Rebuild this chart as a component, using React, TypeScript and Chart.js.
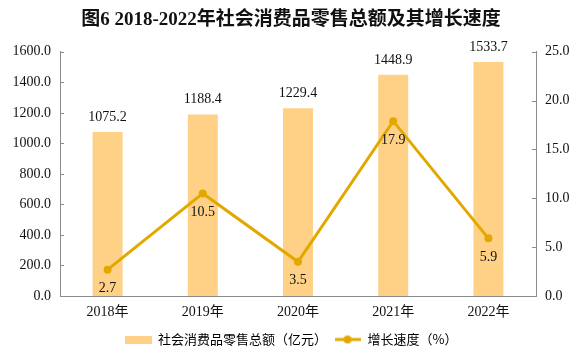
import React, { useEffect, useRef } from "react";
import { Chart, registerables } from "chart.js";

Chart.register(...registerables);

const titleText = "图6 2018-2022年社会消费品零售总额及其增长速度";
const categories = ["2018年", "2019年", "2020年", "2021年", "2022年"];
const retailSales = [1075.2, 1188.4, 1229.4, 1448.9, 1533.7];
const growthRate = [2.7, 10.5, 3.5, 17.9, 5.9];
const seriesNames = ["社会消费品零售总额（亿元）", "增长速度（%）"];
const leftAxisMax = 1600;
const leftAxisStep = 200;
const rightAxisMax = 25;
const rightAxisStep = 5;

const BAR_COLOR = "#FFD186";
const LINE_COLOR = "#E3A800";
const AXIS_COLOR = "#8C8C8C";
const NUM_FONT = '"Liberation Serif", "Noto Sans CJK SC", serif';
const CJK_FONT = '"Noto Sans CJK SC", "Liberation Serif", sans-serif';

const inwardTicks = {
  id: "inwardTicks",
  afterDraw(chart: any) {
    const { ctx, chartArea } = chart;
    ctx.save();
    ctx.strokeStyle = AXIS_COLOR;
    ctx.lineWidth = 1;
    const y = chart.scales.y;
    y.ticks.forEach((t: any) => {
      const py = Math.round(y.getPixelForValue(t.value)) + 0.5;
      ctx.beginPath();
      ctx.moveTo(chartArea.left, py);
      ctx.lineTo(chartArea.left + 4, py);
      ctx.stroke();
    });
    const y1 = chart.scales.y1;
    y1.ticks.forEach((t: any) => {
      const py = Math.round(y1.getPixelForValue(t.value)) + 0.5;
      ctx.beginPath();
      ctx.moveTo(chartArea.right, py);
      ctx.lineTo(chartArea.right - 4, py);
      ctx.stroke();
    });
    ctx.restore();
  },
};

const valueLabels = {
  id: "valueLabels",
  afterDatasetsDraw(chart: any) {
    const { ctx } = chart;
    ctx.save();
    ctx.fillStyle = "#111";
    ctx.font = `14px ${NUM_FONT}`;
    ctx.textAlign = "center";
    ctx.textBaseline = "middle";
    const barMeta = chart.getDatasetMeta(0);
    barMeta.data.forEach((el: any, i: number) => {
      ctx.fillText(retailSales[i].toFixed(1), el.x, el.y - 15);
    });
    const lineMeta = chart.getDatasetMeta(1);
    lineMeta.data.forEach((el: any, i: number) => {
      ctx.fillText(growthRate[i].toFixed(1), el.x, el.y + 19);
    });
    ctx.restore();
  },
};

function makeBarSwatch() {
  const c = document.createElement("canvas");
  c.width = 27;
  c.height = 8;
  const g = c.getContext("2d")!;
  g.fillStyle = BAR_COLOR;
  g.fillRect(0, 0, 27, 8);
  return c;
}

function makeLineSwatch() {
  const c = document.createElement("canvas");
  c.width = 26;
  c.height = 10;
  const g = c.getContext("2d")!;
  g.strokeStyle = LINE_COLOR;
  g.lineWidth = 3;
  g.beginPath();
  g.moveTo(0, 5);
  g.lineTo(26, 5);
  g.stroke();
  g.fillStyle = LINE_COLOR;
  g.beginPath();
  g.arc(13, 5, 4, 0, Math.PI * 2);
  g.fill();
  return c;
}

export default function App() {
  const ref = useRef<HTMLCanvasElement | null>(null);
  useEffect(() => {
    if (!ref.current) return;
    const barSwatch = makeBarSwatch();
    const lineSwatch = makeLineSwatch();
    const chart = new Chart(ref.current, {
      type: "bar",
      data: {
        labels: categories,
        datasets: [
          {
            type: "bar",
            label: seriesNames[0],
            data: retailSales,
            backgroundColor: BAR_COLOR,
            borderWidth: 0,
            barPercentage: 0.315,
            categoryPercentage: 1,
            yAxisID: "y",
            order: 1,
          },
          {
            type: "line",
            label: seriesNames[1],
            data: growthRate,
            borderColor: LINE_COLOR,
            backgroundColor: LINE_COLOR,
            borderWidth: 3,
            pointRadius: 4,
            pointBackgroundColor: LINE_COLOR,
            pointBorderWidth: 0,
            tension: 0,
            yAxisID: "y1",
            order: 0,
          } as any,
        ],
      },
      options: {
        animation: false,
        responsive: false,
        maintainAspectRatio: false,
        layout: { padding: { top: 0, left: 0, right: 0, bottom: 6 } },
        scales: {
          x: {
            grid: { display: false, drawTicks: false },
            border: { display: true, color: AXIS_COLOR, width: 1 },
            ticks: { color: "#111", font: { family: NUM_FONT, size: 14 }, padding: 8 },
            afterFit(s: any) {
              s.height = 30;
            },
          },
          y: {
            position: "left",
            min: 0,
            max: leftAxisMax,
            grid: { display: false, drawTicks: false },
            border: { display: true, color: AXIS_COLOR, width: 1 },
            ticks: {
              stepSize: leftAxisStep,
              color: "#111",
              font: { family: NUM_FONT, size: 14 },
              padding: 9,
              callback: (v: any) => Number(v).toFixed(1),
            },
            afterFit(s: any) {
              s.width = 60;
            },
          },
          y1: {
            position: "right",
            min: 0,
            max: rightAxisMax,
            grid: { display: false, drawTicks: false },
            border: { display: true, color: AXIS_COLOR, width: 1 },
            ticks: {
              stepSize: rightAxisStep,
              color: "#111",
              font: { family: NUM_FONT, size: 14 },
              padding: 9,
              callback: (v: any) => Number(v).toFixed(1),
            },
            afterFit(s: any) {
              s.width = 46;
            },
          },
        },
        plugins: {
          title: {
            display: true,
            text: titleText,
            color: "#111",
            font: { family: NUM_FONT.replace('"Liberation Serif", "Noto Sans CJK SC"', '"Liberation Serif", "Noto Sans CJK SC"'), size: 19, weight: "bold" },
            padding: { top: 9, bottom: 20 },
          },
          legend: {
            display: true,
            position: "bottom",
            labels: {
              color: "#111",
              font: { family: CJK_FONT, size: 13 },
              usePointStyle: true,
              pointStyleWidth: 27,
              padding: 7,
              generateLabels: () => [
                {
                  text: seriesNames[0],
                  pointStyle: barSwatch,
                  datasetIndex: 0,
                  fillStyle: BAR_COLOR,
                  strokeStyle: BAR_COLOR,
                  lineWidth: 0,
                  hidden: false,
                } as any,
                {
                  text: seriesNames[1],
                  pointStyle: lineSwatch,
                  datasetIndex: 1,
                  fillStyle: LINE_COLOR,
                  strokeStyle: LINE_COLOR,
                  lineWidth: 0,
                  hidden: false,
                } as any,
              ],
            },
          },
          tooltip: { enabled: false },
        },
      },
      plugins: [inwardTicks, valueLabels],
    });
    return () => chart.destroy();
  }, []);
  return (
    <div style={{ position: "fixed", left: 0, top: 0, width: 582, height: 362, background: "#fff" }}>
      <canvas ref={ref} width={582} height={362} style={{ width: 582, height: 362 }} />
    </div>
  );
}
